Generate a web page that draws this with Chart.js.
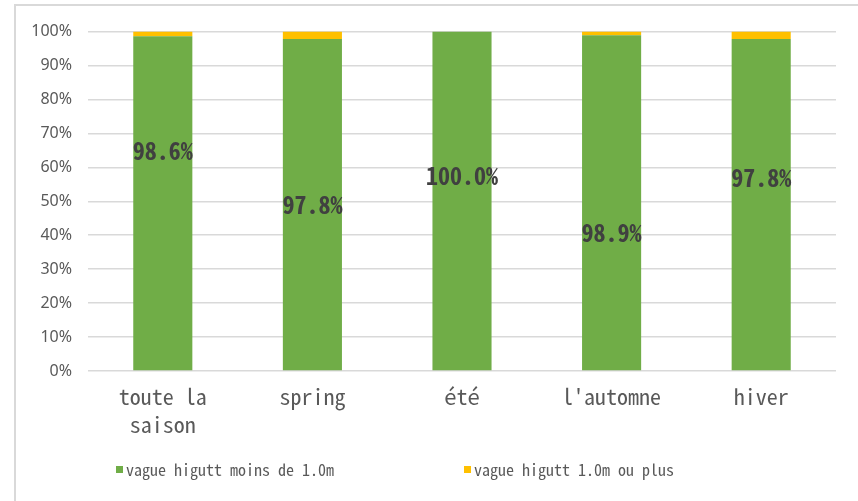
<!DOCTYPE html>
<html>
<head>
<meta charset="utf-8">
<script src="https://cdn.jsdelivr.net/npm/chart.js@4"></script>
<style>
  body { margin: 0; background: #fff; }
  #box { position: absolute; left: 14px; top: 4px; width: 860px; height: 510px; border: 2px solid #d9d9d9; }
  canvas { display: block; }
</style>
</head>
<body>
<div id="box"><canvas id="waveChart" width="844" height="497"></canvas></div>
<script>
// categories and series
const seasons = [['toute la', 'saison'], 'spring', 'été', "l'automne", 'hiver'];
const below1m = [98.6, 97.8, 100.0, 98.9, 97.8];
const above1m = [1.4, 2.2, 0.0, 1.1, 2.2];
const seriesNames = ['vague higutt moins de 1.0m', 'vague higutt 1.0m ou plus'];
const yTicks = [0, 10, 20, 30, 40, 50, 60, 70, 80, 90, 100];

// where each value label sits on the bar (axis units, moved by hand in the original)
const labelAt = [65, 48.8, 57.6, 40.6, 56.8];

const monoFont = '"Noto Sans Mono CJK JP", "Liberation Mono", monospace';

// value labels on the green bars
const valueLabels = {
    id: 'valueLabels',
    afterDatasetsDraw(chart) {
        const ctx = chart.ctx;
        const y = chart.scales.y;
        const bars = chart.getDatasetMeta(0).data;
        ctx.save();
        ctx.font = 'bold 24px ' + monoFont;
        ctx.fillStyle = '#404040';
        ctx.textAlign = 'center';
        ctx.textBaseline = 'middle';
        bars.forEach((bar, i) => {
            ctx.fillText(below1m[i].toFixed(1) + '%', bar.x, y.getPixelForValue(labelAt[i]));
        });
        ctx.restore();
    }
};

// legend drawn by hand, the built-in one can't do the wide gap between entries
const wideLegend = {
    id: 'wideLegend',
    afterDraw(chart) {
        const ctx = chart.ctx;
        const yMid = 464;
        let x = 100;
        ctx.save();
        ctx.font = '16px ' + monoFont;
        ctx.textBaseline = 'middle';
        chart.data.datasets.forEach(ds => {
            ctx.fillStyle = ds.backgroundColor;
            ctx.fillRect(x, yMid - 4, 7, 7);
            ctx.fillStyle = '#595959';
            ctx.fillText(ds.label, x + 10, yMid);
            x += 10 + ctx.measureText(ds.label).width + 130;
        });
        ctx.restore();
    }
};

const ctx = document.getElementById('waveChart').getContext('2d');
new Chart(ctx, {
    type: 'bar',
    data: {
        labels: seasons,
        datasets: [{
            label: seriesNames[0],
            data: below1m,
            backgroundColor: '#70AD47',
            barPercentage: 0.395,
            categoryPercentage: 1
        }, {
            label: seriesNames[1],
            data: above1m,
            backgroundColor: '#FFC000',
            barPercentage: 0.395,
            categoryPercentage: 1
        }]
    },
    options: {
        responsive: false,
        animation: false,
        layout: { padding: { top: 25, right: 24, left: 0, bottom: 50 } },
        plugins: {
            legend: { display: false },
            tooltip: { enabled: false }
        },
        scales: {
            x: {
                stacked: true,
                afterFit(scale) { scale.height = 82; },
                grid: { display: false, drawTicks: false },
                border: { display: false },
                ticks: {
                    color: '#595959',
                    padding: 11,
                    maxRotation: 0,
                    font: { family: monoFont, size: 22, lineHeight: 1.3 }
                }
            },
            y: {
                stacked: true,
                min: 0,
                max: 100,
                afterFit(scale) { scale.width = 72; },
                afterBuildTicks(scale) { scale.ticks = yTicks.map(v => ({ value: v })); },
                grid: { color: '#d9d9d9', lineWidth: 1.5, drawTicks: false },
                border: { display: false },
                ticks: {
                    color: '#595959',
                    padding: 16,
                    font: { family: '"Noto Sans", sans-serif', size: 16 },
                    callback: v => v + '%'
                }
            }
        }
    },
    plugins: [valueLabels, wideLegend]
});
</script>
</body>
</html>
